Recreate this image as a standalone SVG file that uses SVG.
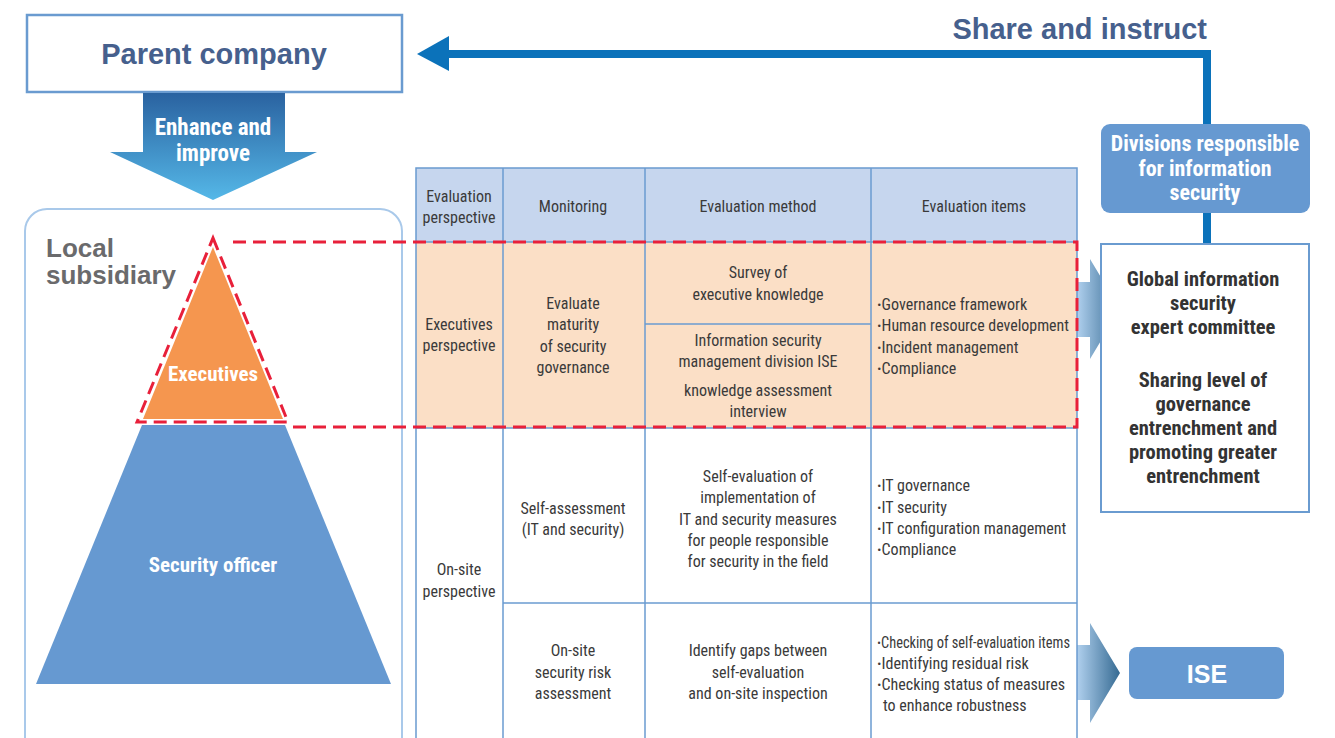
<svg xmlns="http://www.w3.org/2000/svg" width="1335" height="738" viewBox="0 0 1335 738">
<style>
.t{font-family:"Liberation Sans Narrow","Roboto",sans-serif;font-stretch:condensed;font-size:16px;fill:#3a3a3a;text-anchor:middle}
.tl{text-anchor:start}
.w{font-family:"Liberation Sans Narrow","Roboto",sans-serif;font-stretch:condensed;font-weight:bold;fill:#fff;text-anchor:middle}
.b{font-family:"Liberation Sans","Arial",sans-serif;font-weight:bold}
.grid{stroke:#6a9bd0;stroke-width:1.5;fill:none}
.dash{stroke:#e8203a;stroke-width:3;fill:none;stroke-dasharray:13 7}
.bu{font-weight:bold}
</style>
<defs>
<linearGradient id="gDown" x1="0" y1="0" x2="0" y2="1">
<stop offset="0" stop-color="#2a62a0"/>
<stop offset="1" stop-color="#55b8e8"/>
</linearGradient>
<linearGradient id="gRight" x1="0" y1="0" x2="1" y2="0">
<stop offset="0" stop-color="#b0d0ee"/>
<stop offset="1" stop-color="#356a92"/>
</linearGradient>
</defs>
<rect width="1335" height="738" fill="#fff"/>

<g id="connectors">
<polyline points="449,54 1207,54 1207,244" fill="none" stroke="#0b72ba" stroke-width="8"/>
<polygon points="417,54 449,36 449,71" fill="#0b72ba"/>
<polygon points="1077,282 1090,282 1090,259 1120,309 1090,359 1090,337 1077,337" fill="url(#gRight)"/>
<polygon points="1077,645 1090,645 1090,623 1120,673 1090,723 1090,700 1077,700" fill="url(#gRight)"/>
</g>

<g id="parent">
<rect x="27" y="15" width="375" height="77" fill="#fff" stroke="#6a9bd0" stroke-width="2.5"/>
<text class="b" x="214" y="64" font-size="29" fill="#46608d" text-anchor="middle">Parent company</text>
</g>

<g id="enhance">
<polygon points="143,93 285,93 285,152 317,152 213,200 110,152 143,152" fill="url(#gDown)"/>
<text class="w" x="213" y="135" font-size="23">Enhance and</text>
<text class="w" x="213" y="161" font-size="23">improve</text>
</g>

<g id="local">
<rect x="25" y="209" width="377" height="560" rx="22" fill="#fff" stroke="#a9c9ea" stroke-width="2"/>
<text class="b" x="46" y="257" font-size="26" fill="#6a6a6c" text-anchor="start">Local</text>
<text class="b" x="46" y="284" font-size="26" fill="#6a6a6c" text-anchor="start">subsidiary</text>
</g>

<g id="security-officer">
<polygon points="142,425 285,425 391,684 36,684" fill="#6699d1"/>
<text class="w" x="213" y="572" font-size="21">Security officer</text>
</g>

<g id="executives">
<polygon points="213,247 283,419 143,419" fill="#f5964f"/>
<text class="w" x="213" y="381" font-size="21">Executives</text>
</g>

<g id="table">
<rect x="416" y="168" width="661" height="74" fill="#c6d6ee"/>
<rect x="416" y="242" width="661" height="186" fill="#fbdfc6"/>
<rect x="416" y="168" width="661" height="580" class="grid" stroke-width="2"/>
<line class="grid" x1="503" y1="168" x2="503" y2="738"/>
<line class="grid" x1="645" y1="168" x2="645" y2="738"/>
<line class="grid" x1="871" y1="168" x2="871" y2="738"/>
<line class="grid" x1="416" y1="242" x2="1077" y2="242"/>
<line class="grid" x1="645" y1="324" x2="871" y2="324"/>
<line class="grid" x1="416" y1="428" x2="1077" y2="428"/>
<line class="grid" x1="503" y1="603" x2="1077" y2="603"/>

<text class="t" x="459" y="202">Evaluation</text>
<text class="t" x="459" y="223">perspective</text>
<text class="t" x="573" y="212">Monitoring</text>
<text class="t" x="758" y="212">Evaluation method</text>
<text class="t" x="974" y="212">Evaluation items</text>

<text class="t" x="459" y="330">Executives</text>
<text class="t" x="459" y="351">perspective</text>
<text class="t" x="573" y="309">Evaluate</text>
<text class="t" x="573" y="330">maturity</text>
<text class="t" x="573" y="352">of security</text>
<text class="t" x="573" y="373">governance</text>
<text class="t" x="758" y="278">Survey of</text>
<text class="t" x="758" y="300">executive knowledge</text>
<text class="t" x="758" y="346">Information security</text>
<text class="t" x="758" y="367">management division ISE</text>
<text class="t" x="758" y="396">knowledge assessment</text>
<text class="t" x="758" y="417">interview</text>
<text class="t tl" x="877" y="310"><tspan class="bu">·</tspan>Governance framework</text>
<text class="t tl" x="877" y="331" textLength="192" lengthAdjust="spacingAndGlyphs"><tspan class="bu">·</tspan>Human resource development</text>
<text class="t tl" x="877" y="353"><tspan class="bu">·</tspan>Incident management</text>
<text class="t tl" x="877" y="374"><tspan class="bu">·</tspan>Compliance</text>

<text class="t" x="459" y="575">On-site</text>
<text class="t" x="459" y="597">perspective</text>

<text class="t" x="573" y="514">Self-assessment</text>
<text class="t" x="573" y="535">(IT and security)</text>
<text class="t" x="758" y="482">Self-evaluation of</text>
<text class="t" x="758" y="503">implementation of</text>
<text class="t" x="758" y="525">IT and security measures</text>
<text class="t" x="758" y="546">for people responsible</text>
<text class="t" x="758" y="567">for security in the field</text>
<text class="t tl" x="877" y="491"><tspan class="bu">·</tspan>IT governance</text>
<text class="t tl" x="877" y="513"><tspan class="bu">·</tspan>IT security</text>
<text class="t tl" x="877" y="534"><tspan class="bu">·</tspan>IT configuration management</text>
<text class="t tl" x="877" y="555"><tspan class="bu">·</tspan>Compliance</text>

<text class="t" x="573" y="656">On-site</text>
<text class="t" x="573" y="678">security risk</text>
<text class="t" x="573" y="699">assessment</text>
<text class="t" x="758" y="656">Identify gaps between</text>
<text class="t" x="758" y="678">self-evaluation</text>
<text class="t" x="758" y="699">and on-site inspection</text>
<text class="t tl" x="877" y="648" textLength="193" lengthAdjust="spacingAndGlyphs"><tspan class="bu">·</tspan>Checking of self-evaluation items</text>
<text class="t tl" x="877" y="669"><tspan class="bu">·</tspan>Identifying residual risk</text>
<text class="t tl" x="877" y="690"><tspan class="bu">·</tspan>Checking status of measures</text>
<text class="t tl" x="883" y="711">to enhance robustness</text>
</g>

<g id="focus-outline">
<polyline class="dash" points="233,242 1077,242 1077,427 288,427"/>
<polygon class="dash" points="213,238 288,422 137,422"/>
</g>

<g id="share-label">
<text class="b" x="1207" y="39" font-size="29" fill="#46608d" text-anchor="end">Share and instruct</text>
</g>

<g id="divisions">
<rect x="1101" y="124" width="209" height="89" rx="9" fill="#6699d1"/>
<text class="w" x="1205" y="151" font-size="22">Divisions responsible</text>
<text class="w" x="1205" y="176" font-size="22">for information</text>
<text class="w" x="1205" y="200" font-size="22">security</text>
</g>

<g id="committee">
<rect x="1101" y="244" width="208" height="268" fill="#fff" stroke="#6a9bd0" stroke-width="2"/>
<g class="w" font-size="20.5" style="fill:#333">
<text x="1203" y="286">Global information</text>
<text x="1203" y="310">security</text>
<text x="1203" y="334">expert committee</text>
<text x="1203" y="387">Sharing level of</text>
<text x="1203" y="411">governance</text>
<text x="1203" y="435">entrenchment and</text>
<text x="1203" y="459">promoting greater</text>
<text x="1203" y="483">entrenchment</text>
</g>
</g>

<g id="ise">
<rect x="1129" y="647" width="155" height="52" rx="8" fill="#6699d1"/>
<text class="b" x="1207" y="683" font-size="25" fill="#fff" text-anchor="middle">ISE</text>
</g>
</svg>
